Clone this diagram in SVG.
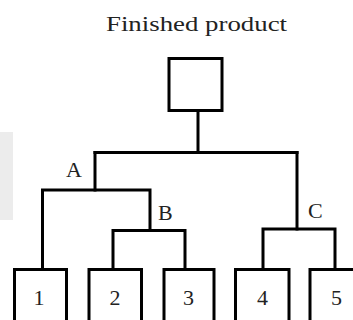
<svg xmlns="http://www.w3.org/2000/svg" width="353" height="320" viewBox="0 0 353 320">
  <style>
    .box { fill: #ffffff; stroke: #000000; stroke-width: 3; }
    .wire { fill: none; stroke: #000000; stroke-width: 3; stroke-linecap: square; stroke-linejoin: miter; }
    .lbl { font-family: "Liberation Serif", "Times New Roman", serif; font-size: 22px; fill: #222222; }
    .num { text-anchor: middle; }
  </style>

  <rect width="353" height="320" fill="#ffffff"/>
  <!-- faint page shading along the left edge -->
  <rect x="0" y="132" width="13" height="88" fill="#ececec"/>

  <text class="lbl" x="106" y="31" textLength="181" lengthAdjust="spacingAndGlyphs">Finished product</text>

  <g id="connectors">
    <!-- root down to the main split -->
    <polyline class="wire" points="198,111 198,152.5"/>
    <polyline class="wire" points="95,152.5 297,152.5"/>
    <!-- branch A -->
    <polyline class="wire" points="95,152.5 95,190"/>
    <polyline class="wire" points="42.5,269.5 42.5,190 150,190 150,230.5"/>
    <!-- branch B -->
    <polyline class="wire" points="113,269.5 113,230.5 185,230.5 185,269.5"/>
    <!-- branch C -->
    <polyline class="wire" points="297,152.5 297,229"/>
    <polyline class="wire" points="263,269.5 263,229 335,229 335,269.5"/>
  </g>

  <g id="finished">
    <rect class="box" x="169" y="58.5" width="53" height="52"/>
  </g>

  <g id="label-A"><text class="lbl" x="66" y="177">A</text></g>
  <g id="label-B"><text class="lbl" x="158" y="220">B</text></g>
  <g id="label-C"><text class="lbl" x="308" y="218">C</text></g>

  <g id="part-1">
    <rect class="box" x="14.5" y="269.5" width="52" height="60"/>
    <text class="lbl num" x="39" y="305">1</text>
  </g>
  <g id="part-2">
    <rect class="box" x="89" y="269.5" width="52.5" height="60"/>
    <text class="lbl num" x="115" y="305">2</text>
  </g>
  <g id="part-3">
    <rect class="box" x="164" y="269.5" width="50" height="60"/>
    <text class="lbl num" x="188.5" y="305">3</text>
  </g>
  <g id="part-4">
    <rect class="box" x="235.5" y="269.5" width="53.5" height="60"/>
    <text class="lbl num" x="262.5" y="305">4</text>
  </g>
  <g id="part-5">
    <rect class="box" x="310" y="269.5" width="60" height="60"/>
    <text class="lbl num" x="336.5" y="305">5</text>
  </g>
</svg>
